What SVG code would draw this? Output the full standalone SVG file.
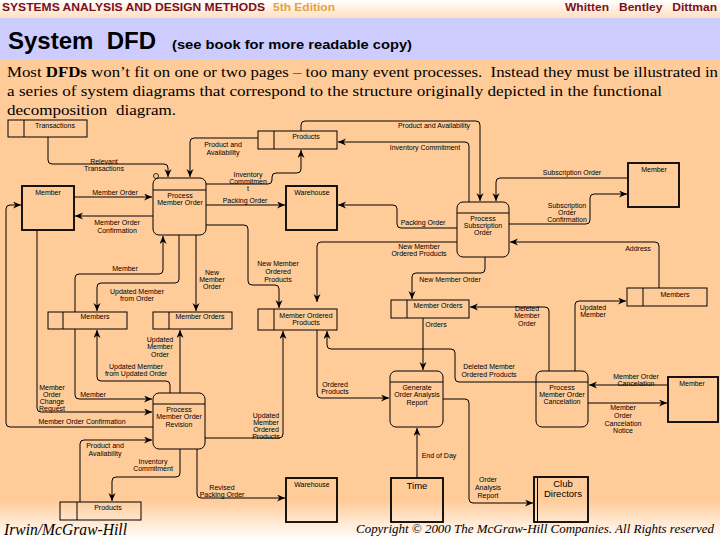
<svg xmlns="http://www.w3.org/2000/svg" width="720" height="540" viewBox="0 0 720 540">
<defs>
<linearGradient id="topg" x1="0" y1="0" x2="0" y2="1"><stop offset="0" stop-color="#FFFFFF"/><stop offset="1" stop-color="#FFE0C0"/></linearGradient>
<linearGradient id="botg" x1="0" y1="0" x2="0" y2="1"><stop offset="0" stop-color="#FFCC99"/><stop offset="1" stop-color="#FFFFFF"/></linearGradient>
<marker id="ah" markerUnits="userSpaceOnUse" markerWidth="10" markerHeight="8" refX="8" refY="3.5" orient="auto"><path d="M0,0 L8,3.5 L0,7 L2.5,3.5 Z" fill="#000"/></marker>
<style>
.c{fill:none;stroke:#000;stroke-width:1;marker-end:url(#ah)}
.p{fill:none;stroke:#000;stroke-width:1}
.ent{fill:none;stroke:#000;stroke-width:1.8}
.st{fill:none;stroke:#000;stroke-width:1}
.t{font-family:"Liberation Sans",Arial,sans-serif;font-size:7px;fill:#000;text-anchor:middle}
.tb{font-family:"Liberation Sans",Arial,sans-serif;font-size:9.5px;fill:#000;text-anchor:middle}
</style>
</defs>
<rect x="0" y="0" width="720" height="540" fill="#FFCC99"/>
<rect x="0" y="500" width="720" height="40" fill="url(#botg)"/>
<rect x="0" y="0" width="720" height="18" fill="url(#topg)"/>
<rect x="0" y="18" width="720" height="42" fill="#CCCCFF"/>
<g id="header">
<text x="2" y="11" font-family="Liberation Sans,Arial,sans-serif" font-weight="bold" font-size="11" fill="#7A1020" textLength="263" lengthAdjust="spacingAndGlyphs">SYSTEMS ANALYSIS AND DESIGN METHODS</text>
<text x="273" y="11" font-family="Liberation Sans,Arial,sans-serif" font-weight="bold" font-size="11" fill="#E8A040" textLength="62" lengthAdjust="spacingAndGlyphs">5th Edition</text>
<text x="565" y="11" font-family="Liberation Sans,Arial,sans-serif" font-weight="bold" font-size="11" fill="#7A1020" textLength="152" lengthAdjust="spacingAndGlyphs" xml:space="preserve">Whitten   Bentley   Dittman</text>
<text x="8" y="49" font-family="Liberation Sans,Arial,sans-serif" font-weight="bold" font-size="24" fill="#000" xml:space="preserve">System  DFD</text>
<text x="172" y="49" font-family="Liberation Sans,Arial,sans-serif" font-weight="bold" font-size="13" fill="#000" textLength="240" lengthAdjust="spacingAndGlyphs">(see book for more readable copy)</text>
<text x="7" y="77" font-family="Liberation Serif,Times New Roman,serif" font-size="15.5" fill="#000" textLength="711" lengthAdjust="spacingAndGlyphs" xml:space="preserve">Most <tspan font-weight="bold">DFDs</tspan> won’t fit on one or two pages – too many event processes.  Instead they must be illustrated in</text>
<text x="7" y="96" font-family="Liberation Serif,Times New Roman,serif" font-size="15.5" fill="#000" textLength="655" lengthAdjust="spacingAndGlyphs">a series of system diagrams that correspond to the structure originally depicted in the functional</text>
<text x="7" y="115" font-family="Liberation Serif,Times New Roman,serif" font-size="15.5" fill="#000" textLength="169" lengthAdjust="spacingAndGlyphs" xml:space="preserve">decomposition  diagram.</text>
</g>
<g id="footer">
<text x="4" y="535" font-family="Liberation Serif,Times New Roman,serif" font-style="italic" font-size="17" fill="#000" textLength="123" lengthAdjust="spacingAndGlyphs">Irwin/McGraw-Hill</text>
<text x="356" y="533" font-family="Liberation Serif,Times New Roman,serif" font-style="italic" font-size="13" fill="#000" textLength="358" lengthAdjust="spacingAndGlyphs">Copyright © 2000 The McGraw-Hill Companies. All Rights reserved</text>
</g>

<g id="connectors">
<path class="c" d="M48,137 V160 Q48,164 52,164 H164 Q168,164 168,168 V177"/>
<circle cx="156" cy="176" r="2.5" fill="none" stroke="#000" stroke-width="0.8"/>
<path class="c" d="M258,138 H194 Q190,138 190,142 V177"/>
<path class="c" d="M301,131 V125 Q301,121 305,121 H476 Q480,121 480,125 V201"/>
<path class="c" d="M469,202 V146 Q469,142 465,142 H338"/>
<path class="c" d="M206,184 H268 Q272,184 272,180 V177 Q272,173 276,173 H297 Q301,173 301,169 V150"/>
<path class="c" d="M206,205 H285"/>
<path class="c" d="M457,228 H401 Q397,228 397,224 V209 Q397,205 393,205 H338"/>
<path class="c" d="M628,178 H500 Q496,178 496,182 V201"/>
<path class="c" d="M509,224 H586 Q590,224 590,220 V198 Q590,194 594,194 H627"/>
<path class="c" d="M659,288 V246 Q659,242 655,242 H510"/>
<path class="c" d="M457,242 H321 Q317,242 317,246 V302"/>
<path class="c" d="M485,257 V269 Q485,273 481,273 H416 Q412,273 412,277 V299"/>
<path class="c" d="M75,312 V278 Q75,274 79,274 H159 Q163,274 163,270 V236"/>
<path class="c" d="M75,329 V395 Q75,399 79,399 H152"/>
<path class="c" d="M179,235 V279 Q179,283 175,283 H101 Q97,283 97,287 V311"/>
<path class="c" d="M196,235 V311"/>
<path class="c" d="M206,225 H244 Q248,225 248,229 V281 Q248,285 252,285 H275 Q279,285 279,289 V308"/>
<path class="c" d="M74,197 H152"/>
<path class="c" d="M153,216 H75"/>
<path class="c" d="M37,230 V408 Q37,412 41,412 H152"/>
<path class="c" d="M153,427 H10 Q6,427 6,423 V209 Q6,205 10,205 H21"/>
<path class="c" d="M80,502 V444 Q80,440 84,440 H152"/>
<path class="c" d="M180,449 V473 Q180,477 176,477 H116 Q112,477 112,481 V501"/>
<path class="c" d="M197,449 V494 Q197,498 201,498 H285"/>
<path class="c" d="M170,393 V385 Q170,381 166,381 H101 Q97,381 97,377 V330"/>
<path class="c" d="M180,393 V330"/>
<path class="c" d="M205,438 H279 Q283,438 283,434 V331"/>
<path class="c" d="M317,330 V394 Q317,398 321,398 H389"/>
<path class="c" d="M536,382 H459 Q455,382 455,378 V353 Q455,349 451,349 H331 Q327,349 327,345 V331"/>
<path class="c" d="M423,318 V370"/>
<path class="c" d="M417,478 V428"/>
<path class="c" d="M443,399 H465 Q469,399 469,403 V499 Q469,503 473,503 H533"/>
<path class="c" d="M549,371 V311 Q549,307 545,307 H470"/>
<path class="c" d="M575,371 V305 Q575,301 579,301 H626"/>
<path class="c" d="M667,385 H589"/>
<path class="c" d="M588,403 H667"/>
</g>

<g id="labels">
<text class="t" x="104" y="164">Relevant</text><text class="t" x="104" y="171">Transactions</text>
<text class="t" x="223" y="147">Product and</text><text class="t" x="223" y="155">Availability</text>
<text class="t" x="434" y="128">Product and Availability</text>
<text class="t" x="425" y="150">Inventory Commitment</text>
<text class="t" x="248" y="177">Inventory</text><text class="t" x="248" y="184">Commitmen</text><text class="t" x="248" y="191">t</text>
<text class="t" x="245" y="203">Packing Order</text>
<text class="t" x="423" y="225">Packing Order</text>
<text class="t" x="572" y="175">Subscription Order</text>
<text class="t" x="567" y="208">Subscription</text><text class="t" x="567" y="215">Order</text><text class="t" x="567" y="222">Confirmation</text>
<text class="t" x="638" y="251">Address</text>
<text class="t" x="419" y="249">New Member</text><text class="t" x="419" y="256">Ordered Products</text>
<text class="t" x="450" y="282">New Member Order</text>
<text class="t" x="125" y="271">Member</text>
<text class="t" x="93" y="397">Member</text>
<text class="t" x="137" y="294">Updated Member</text><text class="t" x="137" y="301">from Order</text>
<text class="t" x="212" y="275">New</text><text class="t" x="212" y="282">Member</text><text class="t" x="212" y="289">Order</text>
<text class="t" x="278" y="266">New Member</text><text class="t" x="278" y="274">Ordered</text><text class="t" x="278" y="282">Products</text>
<text class="t" x="115" y="195">Member Order</text>
<text class="t" x="117" y="225">Member Order</text><text class="t" x="117" y="233">Confirmation</text>
<text class="t" x="52" y="390">Member</text><text class="t" x="52" y="397">Order</text><text class="t" x="52" y="404">Change</text><text class="t" x="52" y="411">Request</text>
<text class="t" x="82" y="424">Member Order Confirmation</text>
<text class="t" x="105" y="448">Product and</text><text class="t" x="105" y="456">Availability</text>
<text class="t" x="153" y="464">Inventory</text><text class="t" x="153" y="471">Commitment</text>
<text class="t" x="222" y="490">Revised</text><text class="t" x="222" y="497">Packing Order</text>
<text class="t" x="136" y="369">Updated Member</text><text class="t" x="136" y="376">from Updated Order</text>
<text class="t" x="160" y="342">Updated</text><text class="t" x="160" y="349">Member</text><text class="t" x="160" y="357">Order</text>
<text class="t" x="266" y="418">Updated</text><text class="t" x="266" y="425">Member</text><text class="t" x="266" y="432">Ordered</text><text class="t" x="266" y="439">Products</text>
<text class="t" x="335" y="387">Ordered</text><text class="t" x="335" y="394">Products</text>
<text class="t" x="489" y="369">Deleted Member</text><text class="t" x="489" y="377">Ordered Products</text>
<text class="t" x="436" y="327">Orders</text>
<text class="t" x="439" y="458">End of Day</text>
<text class="t" x="488" y="482">Order</text><text class="t" x="488" y="490">Analysis</text><text class="t" x="488" y="498">Report</text>
<text class="t" x="527" y="311">Deleted</text><text class="t" x="527" y="318">Member</text><text class="t" x="527" y="326">Order</text>
<text class="t" x="593" y="310">Updated</text><text class="t" x="593" y="317">Member</text>
<text class="t" x="636" y="379">Member Order</text><text class="t" x="636" y="386">Cancelation</text>
<text class="t" x="623" y="410">Member</text><text class="t" x="623" y="418">Order</text><text class="t" x="623" y="426">Cancelation</text><text class="t" x="623" y="433">Notice</text>
</g>

<g id="store-transactions"><rect class="st" x="8" y="120" width="79" height="17"/><line class="st" x1="24" y1="120" x2="24" y2="137"/><text class="t" x="55" y="128">Transactions</text></g>
<g id="store-products-top"><rect class="st" x="258" y="131" width="79" height="18"/><line class="st" x1="274" y1="131" x2="274" y2="149"/><text class="t" x="306" y="139">Products</text></g>
<g id="store-members-left"><rect class="st" x="48" y="312" width="79" height="17"/><line class="st" x1="63" y1="312" x2="63" y2="329"/><text class="t" x="95" y="319">Members</text></g>
<g id="store-memberorders-left"><rect class="st" x="153" y="312" width="79" height="17"/><line class="st" x1="169" y1="312" x2="169" y2="329"/><text class="t" x="200" y="319">Member Orders</text></g>
<g id="store-memberorderedproducts"><rect class="st" x="258" y="309" width="79" height="21"/><line class="st" x1="274" y1="309" x2="274" y2="330"/><text class="t" x="306" y="318">Member Ordered</text><text class="t" x="306" y="325">Products</text></g>
<g id="store-memberorders-right"><rect class="st" x="391" y="300" width="78" height="18"/><line class="st" x1="407" y1="300" x2="407" y2="318"/><text class="t" x="438" y="308">Member Orders</text></g>
<g id="store-members-right"><rect class="st" x="627" y="288" width="80" height="18"/><line class="st" x1="643" y1="288" x2="643" y2="306"/><text class="t" x="675" y="297">Members</text></g>
<g id="store-products-bottom"><rect class="st" x="60" y="502" width="81" height="18"/><line class="st" x1="77" y1="502" x2="77" y2="520"/><text class="t" x="108" y="510">Products</text></g>

<g id="proc-member-order"><rect class="p" x="153" y="178" width="53" height="57" rx="6"/><line class="p" x1="153" y1="190" x2="206" y2="190"/><text class="t" x="180" y="198">Process</text><text class="t" x="180" y="205">Member Order</text></g>
<g id="proc-subscription-order"><rect class="p" x="457" y="202" width="52" height="55" rx="6"/><line class="p" x1="457" y1="213" x2="509" y2="213"/><text class="t" x="483" y="221">Process</text><text class="t" x="483" y="228">Subscription</text><text class="t" x="483" y="235">Order</text></g>
<g id="proc-member-order-revision"><rect class="p" x="153" y="393" width="52" height="56" rx="6"/><line class="p" x1="153" y1="404" x2="205" y2="404"/><text class="t" x="179" y="412">Process</text><text class="t" x="179" y="419">Member Order</text><text class="t" x="179" y="427">Revision</text></g>
<g id="proc-generate-report"><rect class="p" x="390" y="371" width="53" height="56" rx="6"/><line class="p" x1="390" y1="382" x2="443" y2="382"/><text class="t" x="417" y="390">Generate</text><text class="t" x="417" y="397">Order Analysis</text><text class="t" x="417" y="405">Report</text></g>
<g id="proc-member-order-cancelation"><rect class="p" x="536" y="371" width="52" height="56" rx="6"/><line class="p" x1="536" y1="382" x2="588" y2="382"/><text class="t" x="562" y="390">Process</text><text class="t" x="562" y="397">Member Order</text><text class="t" x="562" y="404">Cancelation</text></g>

<g id="ent-member-left"><rect class="ent" x="22" y="186" width="52" height="44"/><text class="t" x="48" y="195">Member</text></g>
<g id="ent-warehouse-top"><rect class="ent" x="286" y="186" width="51" height="44"/><text class="t" x="312" y="195">Warehouse</text></g>
<g id="ent-member-topright"><rect class="ent" x="628" y="163" width="51" height="44"/><text class="t" x="654" y="172">Member</text></g>
<g id="ent-warehouse-bottom"><rect class="ent" x="286" y="478" width="51" height="44"/><text class="t" x="312" y="487">Warehouse</text></g>
<g id="ent-time"><rect class="ent" x="391" y="478" width="52" height="44"/><text class="tb" x="417" y="489">Time</text></g>
<g id="ent-club-directors"><rect class="ent" x="534" y="477" width="54" height="45"/><line class="st" x1="537.5" y1="477" x2="537.5" y2="522"/><text class="tb" x="563" y="487" font-size="8.5">Club</text><text class="tb" x="563" y="497" font-size="8.5">Directors</text></g>
<g id="ent-member-bottomright"><rect class="ent" x="668" y="377" width="50" height="45"/><text class="t" x="692" y="386">Member</text></g>
</svg>
